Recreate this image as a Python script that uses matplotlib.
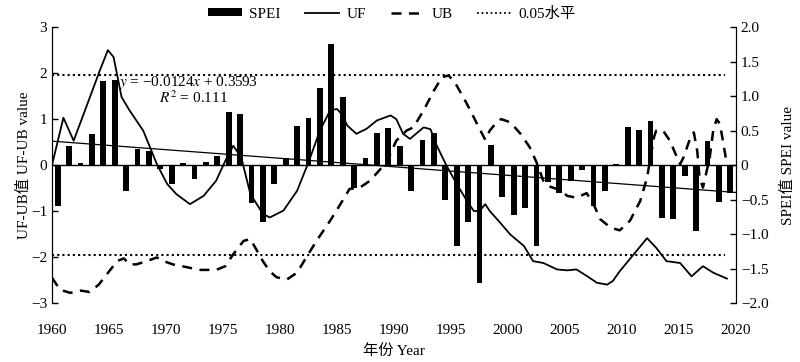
import numpy as np
import matplotlib
matplotlib.use("Agg")
from matplotlib import pyplot as plt
from matplotlib.patches import Patch
from matplotlib.lines import Line2D

plt.rcParams['font.family'] = ['Liberation Serif', 'Noto Sans CJK SC']
plt.rcParams['mathtext.fontset'] = 'stix'
plt.rcParams['axes.unicode_minus'] = True

# ==== data ====
years = np.arange(1960, 2020)
spei = [-0.60, 0.27, 0.03, 0.45, 1.22, 1.23, -0.37, 0.24, 0.20, -0.05,
        -0.27, 0.03, -0.20, 0.05, 0.13, 0.77, 0.74, -0.55, -0.82, -0.27,
        0.10, 0.56, 0.68, 1.12, 1.75, 0.99, -0.33, 0.10, 0.47, 0.54,
        0.27, -0.38, 0.37, 0.46, -0.51, -1.18, -0.82, -1.71, 0.29, -0.47,
        -0.72, -0.62, -1.18, -0.25, -0.41, -0.23, -0.07, -0.60, -0.38, 0.01,
        0.55, 0.51, 0.64, -0.77, -0.78, -0.16, -0.95, 0.35, -0.53, -0.40]

uf_x = [1960.0, 1961.0, 1961.9, 1963.0, 1964.2, 1964.9, 1965.4, 1966.1, 1966.8, 1968.0,
        1969.2, 1970.1, 1970.9, 1972.1, 1973.3, 1974.4, 1975.2, 1975.9, 1976.6, 1977.4,
        1978.5, 1979.1, 1980.3, 1981.5, 1982.5, 1983.5, 1984.4, 1985.0, 1985.4, 1985.9,
        1986.7, 1987.6, 1988.5, 1989.7, 1990.2, 1990.8, 1991.4, 1992.6, 1993.2, 1993.7,
        1994.6, 1995.5, 1996.4, 1997.0, 1997.5, 1998.0, 1998.4, 1999.3, 2000.2, 2001.4,
        2002.2, 2003.1, 2004.3, 2005.2, 2006.0, 2006.9, 2007.8, 2008.7, 2009.2, 2009.8,
        2011.0, 2012.2, 2013.0, 2013.9, 2015.1, 2016.1, 2017.1, 2018.0, 2019.2]
uf_y = [0.00, 1.03, 0.53, 1.26, 2.06, 2.50, 2.35, 1.48, 1.19, 0.75,
        0.02, -0.41, -0.63, -0.85, -0.67, -0.34, 0.09, 0.42, 0.17, -0.63,
        -1.06, -1.14, -0.99, -0.56, 0.06, 0.75, 1.19, 1.22, 1.11, 0.86,
        0.68, 0.79, 0.97, 1.08, 1.00, 0.68, 0.57, 0.82, 0.78, 0.45,
        -0.01, -0.41, -0.78, -1.00, -1.00, -0.85, -1.00, -1.25, -1.51, -1.76,
        -2.09, -2.13, -2.27, -2.29, -2.27, -2.41, -2.56, -2.60, -2.52, -2.31,
        -1.95, -1.59, -1.80, -2.09, -2.13, -2.42, -2.20, -2.34, -2.47]

ub_x = [1960.0, 1960.7, 1961.6, 1962.5, 1963.3, 1964.1, 1964.8, 1965.7, 1966.3, 1966.8,
        1967.4, 1968.3, 1969.2, 1969.8, 1970.6, 1971.8, 1973.0, 1974.4, 1975.2, 1975.9,
        1976.8, 1977.4, 1978.0, 1978.5, 1979.1, 1979.7, 1980.6, 1981.5, 1982.3, 1983.2,
        1984.4, 1985.3, 1986.1, 1987.0, 1987.9, 1988.8, 1989.4, 1990.2, 1991.1, 1991.7,
        1992.6, 1993.5, 1994.2, 1994.8, 1995.5, 1996.4, 1997.3, 1998.0, 1998.4, 1999.0,
        1999.4, 2000.2, 2001.1, 2001.9, 2002.5, 2003.1, 2003.7, 2004.6, 2005.2, 2006.0,
        2006.9, 2007.5, 2008.1, 2009.0, 2009.8, 2010.7, 2011.6, 2012.2, 2012.8, 2013.0,
        2013.6, 2014.2, 2014.7, 2015.1, 2015.4, 2016.0, 2016.3, 2016.6, 2016.8, 2017.1,
        2017.7, 2018.0, 2018.3, 2018.6, 2019.0, 2019.2]
ub_y = [-2.45, -2.71, -2.78, -2.73, -2.76, -2.60, -2.38, -2.09, -2.03, -2.16,
        -2.16, -2.09, -2.01, -2.09, -2.16, -2.22, -2.28, -2.28, -2.20, -1.94,
        -1.65, -1.61, -1.87, -2.09, -2.31, -2.44, -2.49, -2.34, -2.01, -1.65,
        -1.21, -0.85, -0.52, -0.49, -0.34, -0.09, 0.09, 0.53, 0.75, 0.82,
        1.19, 1.62, 1.91, 1.95, 1.73, 1.33, 0.89, 0.55, 0.75, 0.93,
        1.00, 0.93, 0.68, 0.39, 0.06, -0.34, -0.47, -0.55, -0.67, -0.71,
        -0.61, -0.85, -1.18, -1.36, -1.42, -1.21, -0.78, -0.27, 0.60, 0.75,
        0.75, 0.53, 0.24, 0.02, 0.17, 0.60, 0.71, 0.31, -0.27, -0.49,
        0.17, 0.75, 1.00, 0.89, 0.31, 0.02]

slope, intercept = -0.0124, 0.3593
level = 1.96

fig = plt.figure(figsize=(8, 3.62), dpi=100)
ax = fig.add_axes([0.065, 0.163, 0.855, 0.762])
ax2 = ax.twinx()

# bars on SPEI axis (right)
ax2.bar(years + 0.5, spei, width=0.5, color='black', zorder=2)
trend_x = np.arange(1960, 2021)
ax2.plot(trend_x, slope * (trend_x - 1959) + intercept, color='black', lw=0.9, zorder=3)
ax2.axhline(0, color='black', lw=1.0, zorder=3)

# UF / UB on left axis
ax.plot(uf_x, uf_y, color='black', lw=1.3)
ax.plot(ub_x, ub_y, color='black', lw=1.8, ls=(0, (4, 3)))
ax.plot([1960, 2019], [level, level], color='black', lw=1.5, ls=(0, (1, 1.5)))
ax.plot([1960, 2019], [-level, -level], color='black', lw=1.5, ls=(0, (1, 1.5)))

ax.set_zorder(ax2.get_zorder() + 1)
ax.patch.set_visible(False)

ax.set_xlim(1960, 2020)
ax.set_ylim(-3, 3)
ax2.set_ylim(-2, 2)
ax.set_xticks(np.arange(1960, 2021, 5))
ax.set_yticks(np.arange(-3, 4, 1))
ax2.set_yticks(np.arange(-2, 2.01, 0.5))
ax2.set_yticklabels(['\u22122.0', '\u22121.5', '\u22121.0', '\u22120.5', '0',
                     '0.5', '1.0', '1.5', '2.0'])

for a in (ax, ax2):
    a.spines['top'].set_visible(False)
    a.spines['bottom'].set_visible(False)
    a.tick_params(labelsize=11, direction='in', length=4, width=1)
ax.tick_params(axis='x', length=0, pad=15)

ax.set_xlabel('年份 Year', fontsize=11, labelpad=5)
ax.set_ylabel('UF-UB值 UF-UB value', fontsize=11, labelpad=0)
ax2.set_ylabel('SPEI值 SPEI value', fontsize=11, labelpad=9)

ax.text(1965.9, 1.72, '$y$ = \u22120.0124$x$ + 0.3593', fontsize=11)
ax.text(1972.4, 1.35, '$R^2$ = 0.111', fontsize=11, ha='center')

handles = [Patch(facecolor='black'),
           Line2D([], [], color='black', lw=1.3),
           Line2D([], [], color='black', lw=1.8, ls=(0, (4, 3))),
           Line2D([], [], color='black', lw=1.3, ls=(0, (1, 1.5)))]
fig.legend(handles, ['SPEI', 'UF', 'UB', '0.05水平'], loc='upper center',
           bbox_to_anchor=(0.49, 1.02), ncol=4, frameon=False, fontsize=11,
           handlelength=2.2, columnspacing=1.6, handletextpad=0.5, handleheight=0.5)

fig.savefig('out.png', dpi=100)
